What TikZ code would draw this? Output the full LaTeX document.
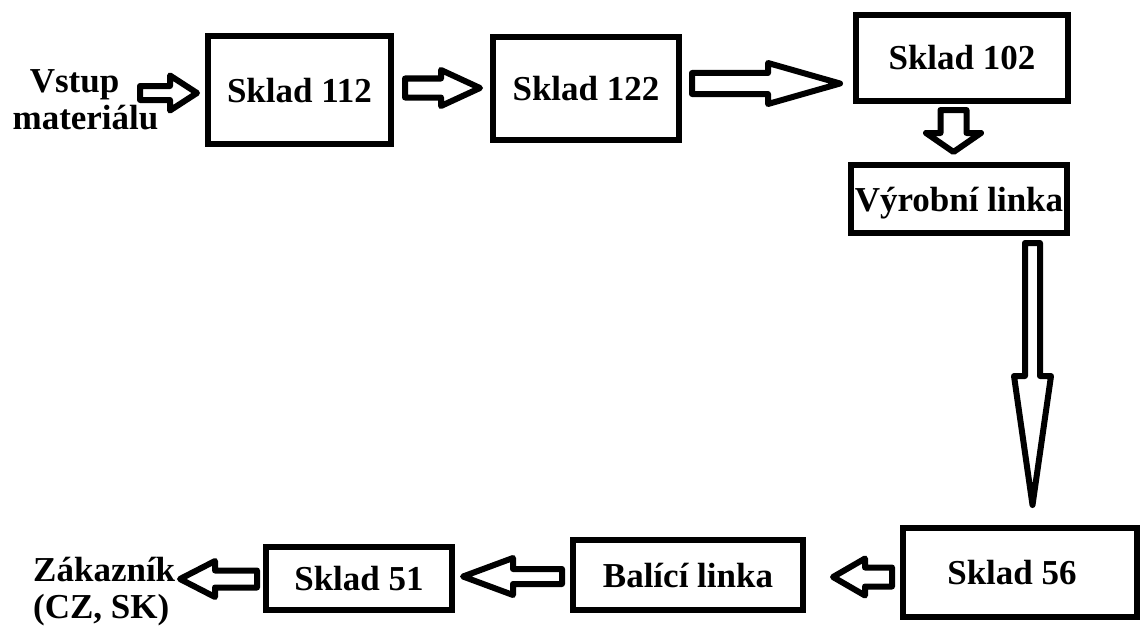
\documentclass[tikz,border=0pt]{standalone}
\usepackage{fontspec}
\setmainfont{Liberation Serif}
\usetikzlibrary{calc}
\tikzset{
  box/.style={draw, line width=6pt, inner sep=0pt, font=\bfseries\fontsize{35}{37}\selectfont, text height=24pt, text depth=0pt},
  lbl/.style={inner sep=0pt, font=\bfseries\fontsize{35}{37}\selectfont},
  blk/.style={draw, line width=6pt, line join=round, fill=white}
}
% horizontal block arrow: start, tip, shaft half width, head half width, head length (signed)
\newcommand\harrow[5]{\draw[blk] let \p1=(#1),\p2=(#2) in
  (\x1,{\y1+#3}) -- ({\x2-(#5)},{\y1+#3}) -- ({\x2-(#5)},{\y1+#4}) -- (\x2,\y2)
  -- ({\x2-(#5)},{\y1-#4}) -- ({\x2-(#5)},{\y1-#3}) -- (\x1,{\y1-#3}) -- cycle;}
% vertical (downward) block arrow
\newcommand\varrow[5]{\draw[blk] let \p1=(#1),\p2=(#2) in
  ({\x1-#3},\y1) -- ({\x1-#3},{\y2+#5}) -- ({\x1-#4},{\y2+#5}) -- (\x2,\y2)
  -- ({\x1+#4},{\y2+#5}) -- ({\x1+#3},{\y2+#5}) -- ({\x1+#3},\y1) -- cycle;}
\begin{document}
\begin{tikzpicture}[x=1pt,y=-1pt]
\fill[white] (0,0) rectangle (1143,626);
\useasboundingbox (0,0) rectangle (1143,626);

% boxes
\node[box, minimum width=183pt, minimum height=108pt] (b112) at (299.5,90) {Sklad 112};
\node[box, minimum width=186pt, minimum height=103pt] (b122) at (586,88.5) {Sklad 122};
\node[box, minimum width=212pt, minimum height=86pt] (b102) at (962,58) {Sklad 102};
\node[box, minimum width=216pt, minimum height=68pt] (bvyr) at (959,199) {Výrobní linka};
\node[box, minimum width=234pt, minimum height=89pt] (b56) at (1020,572.5) {\hspace*{-16pt}Sklad 56};
\node[box, minimum width=230pt, minimum height=70pt] (bbal) at (688,575) {Balící linka};
\node[box, minimum width=186pt, minimum height=63pt] (b51) at (359,578.5) {Sklad 51};

% free texts
\node[lbl, align=center, anchor=north] (vstup) at (85.5,69) {Vstup\hspace*{22pt}\\materiálu};
\node[lbl, align=left, anchor=north west] (zak) at (33,556.5) {Zákazník\\(CZ, SK)};

% arrow end points
\coordinate (a1s) at (140,93);   \coordinate (a1t) at (197,93);
\coordinate (a2s) at (405,88);   \coordinate (a2t) at (480,88);
\coordinate (a3s) at (692,83.5); \coordinate (a3t) at (840,83.5);
\coordinate (a4s) at (953.5,110); \coordinate (a4t) at (953.5,152);
\coordinate (a5s) at (1032.5,243); \coordinate (a5t) at (1032.5,505);
\coordinate (a6s) at (892,577);  \coordinate (a6t) at (833,577);
\coordinate (a7s) at (562,576.5); \coordinate (a7t) at (463,576.5);
\coordinate (a8s) at (257,579);  \coordinate (a8t) at (180,579);

\harrow{a1s}{a1t}{7}{17.5}{27}
\harrow{a2s}{a2t}{9.5}{18}{39}
\harrow{a3s}{a3t}{10.5}{20.5}{72}
\varrow{a4s}{a4t}{13}{27.5}{19}
\varrow{a5s}{a5t}{7.5}{18.5}{129}
\harrow{a6s}{a6t}{9.5}{18.5}{-32}
\harrow{a7s}{a7t}{7.5}{18.5}{-50}
\harrow{a8s}{a8t}{8.5}{18}{-35}
\end{tikzpicture}
\end{document}
